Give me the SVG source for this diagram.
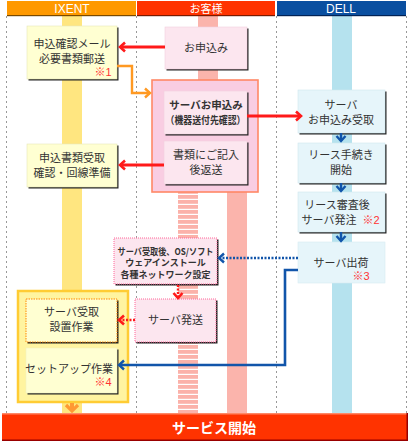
<svg xmlns="http://www.w3.org/2000/svg" width="410" height="444" viewBox="0 0 410 444">
<defs>
<style>
.t{font-family:"Noto Sans CJK JP","Liberation Sans",sans-serif;font-size:11px;fill:#333;text-anchor:middle}
.b{font-weight:bold}
.n{font-family:"Liberation Sans","Noto Sans CJK JP",sans-serif;font-size:11px;fill:#ff3333;text-anchor:middle}
.h{font-family:"Liberation Sans","Noto Sans CJK JP",sans-serif;font-size:12px;fill:#fff;text-anchor:middle}
.lane{stroke:#999;stroke-width:1;stroke-dasharray:2,3;fill:none}
.sh{fill:#222}
</style>
<pattern id="stripe" width="20" height="5" patternUnits="userSpaceOnUse">
<rect width="20" height="5" fill="#fff"/>
<rect width="20" height="3.8" fill="#fbb2aa"/>
</pattern>
<marker id="aR" markerUnits="userSpaceOnUse" markerWidth="12" markerHeight="12" refX="8" refY="6" orient="auto"><path d="M3,1.5 L8,6 L3,10.5" fill="none" stroke="#ff1a1a" stroke-width="2.6"/></marker>
<marker id="aO" markerUnits="userSpaceOnUse" markerWidth="12" markerHeight="12" refX="8" refY="6" orient="auto"><path d="M3,1.5 L8,6 L3,10.5" fill="none" stroke="#ff9922" stroke-width="2.4"/></marker>
<marker id="aB" markerUnits="userSpaceOnUse" markerWidth="12" markerHeight="12" refX="8" refY="6" orient="auto"><path d="M3,1.5 L8,6 L3,10.5" fill="none" stroke="#1155aa" stroke-width="2.4"/></marker>
</defs>
<rect width="410" height="444" fill="#fff"/>
<!-- lane lines -->
<g id="lanes">
<line class="lane" x1="6.5" y1="16" x2="6.5" y2="414"/>
<line class="lane" x1="136.5" y1="16" x2="136.5" y2="414"/>
<line class="lane" x1="276.5" y1="16" x2="276.5" y2="414"/>
<line class="lane" x1="406.5" y1="16" x2="406.5" y2="414"/>
<rect x="62" y="15" width="20" height="398" fill="#ffe680"/>
<rect x="198" y="15" width="20" height="66" fill="#fbb4ac"/>
<rect x="178" y="192" width="20" height="221" fill="url(#stripe)"/>
<rect x="227" y="192" width="20" height="221" fill="#fbb4ac"/>
<rect x="332" y="15" width="20" height="398" fill="#b5e2ee"/>
</g>
<!-- headers -->
<g id="headers">
<rect x="7" y="1" width="129" height="15" fill="#ff9900"/>
<rect x="7" y="15" width="129" height="1.2" fill="#7a4a00"/>
<rect x="137" y="1" width="138" height="15" fill="#ff3300"/>
<rect x="137" y="15" width="138" height="1.2" fill="#7a1a00"/>
<rect x="277" y="1" width="129" height="15" fill="#0a4fa0"/>
<rect x="277" y="15" width="129" height="1.2" fill="#002255"/>
<text class="h" x="72" y="13">IXENT</text>
<text class="h" x="206" y="13" style="font-family:'Noto Sans CJK JP',sans-serif;font-size:11px">お客様</text>
<text class="h" x="341" y="13">DELL</text>
</g>
<!-- group boxes -->
<g id="group-customer">
<rect x="152" y="80" width="106" height="112" fill="#f9cde2" stroke="#ff8866" stroke-width="1.6"/>
</g>
<g id="group-ixent">
<rect x="18" y="291" width="110" height="111" fill="#fff4a0" stroke="#ffcc33" stroke-width="2.5"/>
</g>
<!-- nodes -->
<g id="n-mail">
<rect class="sh" x="28.5" y="27.5" width="90" height="53"/>
<rect x="27" y="26" width="90" height="53" fill="#ffffd2" stroke="#e6e6b8" stroke-width="0.6"/>
<text class="t" x="72" y="48">申込確認メール</text>
<text class="t" x="72" y="63">必要書類郵送</text>
<text class="n" x="103" y="76">※1</text>
</g>
<g id="n-moushikomi">
<rect class="sh" x="166.5" y="28.5" width="82" height="42"/>
<rect x="165" y="27" width="82" height="42" fill="#fce6ef" stroke="#f0d0dc" stroke-width="0.6"/>
<text class="t" x="206" y="52">お申込み</text>
</g>
<g id="n-server-moushikomi">
<rect class="sh" x="165.5" y="92.5" width="83" height="43"/>
<rect x="164" y="91" width="83" height="43" fill="#fce6ef" stroke="#f0d0dc" stroke-width="0.6"/>
<text class="t b" x="206" y="109" style="font-size:10.5px">サーバお申込み</text>
<text class="t b" x="205.5" y="124" style="font-size:10.5px" textLength="80" lengthAdjust="spacingAndGlyphs">（機器送付先確認）</text>
</g>
<g id="n-shorui">
<rect class="sh" x="165.5" y="142.5" width="83" height="43"/>
<rect x="164" y="141" width="83" height="43" fill="#fce6ef" stroke="#f0d0dc" stroke-width="0.6"/>
<text class="t" x="206" y="159">書類にご記入</text>
<text class="t" x="206" y="174">後返送</text>
</g>
<g id="n-uketori">
<rect class="sh" x="28.5" y="145.5" width="90" height="43"/>
<rect x="27" y="144" width="90" height="43" fill="#ffffd2" stroke="#e6e6b8" stroke-width="0.6"/>
<text class="t" x="72" y="162">申込書類受取</text>
<text class="t" x="72" y="177">確認・回線準備</text>
</g>
<g id="n-dell-uketori">
<rect class="sh" x="299.5" y="91.5" width="87" height="43"/>
<rect x="298" y="90" width="87" height="43" fill="#e6f5fa" stroke="#d0e6ee" stroke-width="0.6"/>
<text class="t" x="341" y="109">サーバ</text>
<text class="t" x="341" y="124">お申込み受取</text>
</g>
<g id="n-lease">
<rect class="sh" x="299.5" y="144.5" width="87" height="40"/>
<rect x="298" y="143" width="87" height="40" fill="#e6f5fa" stroke="#d0e6ee" stroke-width="0.6"/>
<text class="t" x="341" y="159">リース手続き</text>
<text class="t" x="341" y="174">開始</text>
</g>
<g id="n-shinsa">
<rect class="sh" x="299.5" y="193.5" width="87" height="40"/>
<rect x="298" y="192" width="87" height="40" fill="#e6f5fa" stroke="#d0e6ee" stroke-width="0.6"/>
<text class="t" x="337" y="209">リース審査後</text>
<text class="t" x="329" y="224">サーバ発注</text>
<text class="n" x="371" y="224">※2</text>
</g>
<g id="n-shukka">
<rect x="298" y="242" width="87" height="41" fill="#e6f5fa" stroke="#d8ecf2" stroke-width="0.6"/>
<text class="t" x="341" y="267">サーバ出荷</text>
<text class="n" x="361" y="280">※3</text>
</g>
<g id="n-os">
<rect class="sh" x="115.5" y="239.5" width="103" height="46"/>
<rect x="114" y="238" width="103" height="46" fill="#fce6ef" stroke="#ff6699" stroke-width="1" stroke-dasharray="1,1"/>
<text class="t b" x="165.5" y="254.5" style="font-size:9px" textLength="96" lengthAdjust="spacingAndGlyphs">サーバ受取後、OS/ソフト</text>
<text class="t b" x="165.5" y="266" style="font-size:9px">ウェアインストール</text>
<text class="t b" x="165.5" y="277.5" style="font-size:9px">各種ネットワーク設定</text>
</g>
<g id="n-hassou">
<rect class="sh" x="136.5" y="300.5" width="81" height="43"/>
<rect x="135" y="299" width="81" height="43" fill="#fce6ef" stroke="#ff6699" stroke-width="1" stroke-dasharray="1,1"/>
<text class="t" x="175.5" y="324">サーバ発送</text>
</g>
<g id="n-setchi">
<rect class="sh" x="27.5" y="300.5" width="91" height="43"/>
<rect x="26" y="299" width="91" height="43" fill="#ffffd2" stroke="#ff8800" stroke-width="1" stroke-dasharray="1.5,1"/>
<text class="t" x="71.5" y="316">サーバ受取</text>
<text class="t" x="71.5" y="331">設置作業</text>
</g>
<g id="n-setup">
<rect class="sh" x="27.5" y="349.5" width="91" height="45"/>
<rect x="26" y="348" width="91" height="45" fill="#ffffd2" stroke="#f0f0c0" stroke-width="0.6"/>
<text class="t" x="69" y="373">セットアップ作業</text>
<text class="n" x="103" y="386">※4</text>
</g>
<g id="n-start">
<rect x="2" y="413" width="406" height="28" fill="#ff3300"/>
<rect x="2" y="413" width="406" height="1.5" fill="#ff8866"/>
<rect x="2" y="439.5" width="406" height="1.5" fill="#990000"/>
<rect x="406.5" y="413" width="1.5" height="28" fill="#990000"/>
<text class="t b" x="214" y="433" style="font-size:14px;fill:#fff">サービス開始</text>
</g>
<!-- connectors -->
<g id="connectors" fill="none">
<path d="M165,47 H120" stroke="#ff1a1a" stroke-width="3" marker-end="url(#aR)"/>
<path d="M117,66 H132 V93 H150" stroke="#ff9922" stroke-width="2.4" marker-end="url(#aO)"/>
<path d="M247,116 H301" stroke="#ff1a1a" stroke-width="3" marker-end="url(#aR)"/>
<path d="M164,165 H120" stroke="#ff1a1a" stroke-width="3" marker-end="url(#aR)"/>
<path d="M341,133 V141" stroke="#1155aa" stroke-width="2.5" marker-end="url(#aB)"/>
<path d="M341,183 V191" stroke="#1155aa" stroke-width="2.5" marker-end="url(#aB)"/>
<path d="M341,232 V241" stroke="#1155aa" stroke-width="2.5" marker-end="url(#aB)"/>
<path d="M298,258 H219" stroke="#1155aa" stroke-width="2.4" stroke-dasharray="2,1.5" marker-end="url(#aB)"/>
<path d="M178,285 V298" stroke="#ff1a1a" stroke-width="2.4" stroke-dasharray="2,1.5" marker-end="url(#aR)"/>
<path d="M135,320 H119" stroke="#ff1a1a" stroke-width="2.4" stroke-dasharray="2,1.5" marker-end="url(#aR)"/>
<path d="M298,270 H285 V365 H119" stroke="#1155aa" stroke-width="2.6" marker-end="url(#aB)"/>
<path d="M72,403 V410" stroke="#ff9933" stroke-width="4"/>
<path d="M66,405 L72,411 L78,405" stroke="#ff9933" stroke-width="3.2"/>
</g>
</svg>
